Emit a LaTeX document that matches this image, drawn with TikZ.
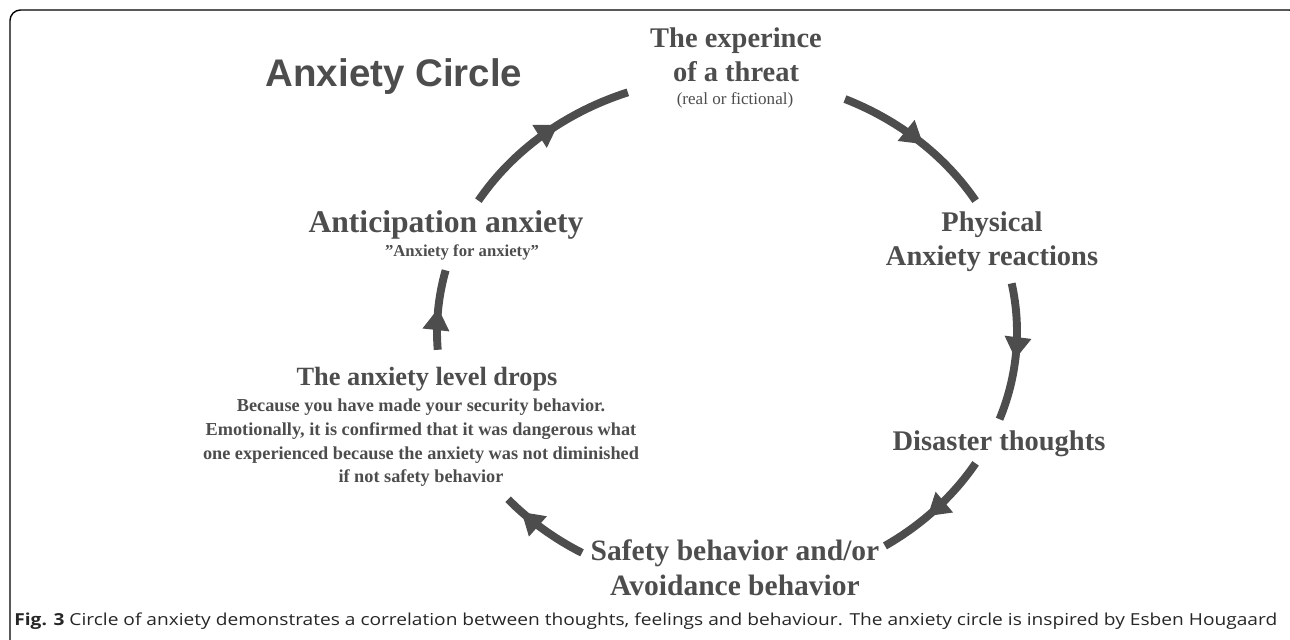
\documentclass[tikz,border=0pt]{standalone}
\usepackage{fontspec}
\setmainfont{Liberation Serif}
\newfontfamily\titlefont{Liberation Sans}
\newfontfamily\captionfont{Open Sans}
\usetikzlibrary{arrows.meta,decorations.markings}
\definecolor{anxgray}{RGB}{77,77,77}
\tikzset{
    cyclearc/.style={anxgray, line width=4.5pt, postaction={decorate},
        decoration={markings, mark=at position #1 with {\arrow{Triangle[length=12.5pt,width=14.5pt]}}}},
    stagetext/.style={text=anxgray, align=center, inner sep=0pt, font=\bfseries},
}
\begin{document}
\begin{tikzpicture}[x=0.02cm, y=0.02cm]
        \useasboundingbox (0,0) rectangle (1290,639);
        \clip (0,0) rectangle (1290,639);
        \draw[line width=0.8pt, rounded corners=6pt] (10,-12) rectangle (1300,629);

        \node[anchor=base, text=anxgray, inner sep=0pt] (title) at (394,552)
            {\titlefont\bfseries\fontsize{21.9}{26}\selectfont Anxiety Circle};

        % stages of the circle
        \node[stagetext, font=\bfseries\fontsize{16.2}{19.3}\selectfont] (threat) at (736,584) {The experince\\ of a threat};
        \node[anchor=base, text=anxgray, inner sep=0pt, font=\fontsize{9.7}{11}\selectfont] (threatnote) at (735,534) {(real or fictional)};
        \node[stagetext, font=\bfseries\fontsize{16.2}{19.3}\selectfont] (physical) at (992,397) {Physical\\ Anxiety reactions};
        \node[stagetext, anchor=base, font=\bfseries\fontsize{16.2}{19.3}\selectfont] (disaster) at (999,189) {Disaster thoughts};
        \node[stagetext, font=\bfseries\fontsize{16.8}{19.8}\selectfont] (safety) at (735,71) {Safety behavior and/or\\ Avoidance behavior};
        \node[stagetext, anchor=base, font=\bfseries\fontsize{15}{18}\selectfont] (drops) at (427,254) {The anxiety level drops};
        \node[stagetext, font=\bfseries\fontsize{10.4}{13.5}\selectfont] (dropsnote) at (421,196)
            {Because you have made your security behavior.\\ Emotionally, it is confirmed that it was dangerous what\\
             one experienced because the anxiety was not diminished\\ if not safety behavior};
        \node[stagetext, anchor=base, font=\bfseries\fontsize{18}{21}\selectfont] (anticip) at (446,406) {Anticipation anxiety};
        \node[stagetext, anchor=base, font=\bfseries\fontsize{9.5}{11}\selectfont] (anticipnote) at (462,382) {”Anxiety for anxiety”};

        % arcs of the circle
        \coordinate (O) at (727,307);
        \foreach \s/\e/\p in {149/110/0.59, 66/31/0.54, 11/-20/0.55, -31/-57/0.58, -120/-139/0.8, 184/166/0.52}
            \draw[cyclearc=\p] (O) ++(\s:290 and 255) arc[start angle=\s, end angle=\e, x radius=290, y radius=255];

        \node[anchor=base west, inner sep=0pt, text=black!85] (caption) at (14,14)
            {\resizebox{25.26cm}{\height}{\captionfont\fontsize{9.4}{11}\selectfont\textbf{Fig. 3} Circle of anxiety demonstrates a correlation between thoughts, feelings and behaviour. The anxiety circle is inspired by Esben Hougaard}};
    \end{tikzpicture}
\end{document}
